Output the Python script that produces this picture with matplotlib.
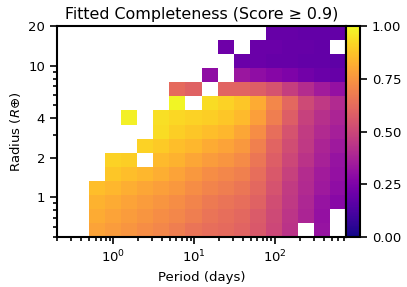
import numpy as np
import matplotlib
matplotlib.use('Agg')
import matplotlib.pyplot as plt
from matplotlib.ticker import ScalarFormatter, NullFormatter

# Bin edges (period in days, radius in Earth radii)
period_edges = np.logspace(np.log10(0.5), np.log10(750), 17)
radius_edges = np.logspace(np.log10(0.5), np.log10(20), 16)

n = np.nan
# Completeness per cell, rows from smallest radius upwards, columns from shortest period
completeness = np.array([
    [0.79, 0.77, 0.75, 0.73, 0.71, 0.68, 0.65, 0.63, 0.62, 0.60, 0.56, 0.50, 0.43, n, 0.32, n],
    [0.81, 0.79, 0.77, 0.75, 0.73, 0.71, 0.68, 0.65, 0.63, 0.61, 0.57, 0.51, 0.44, 0.38, 0.31, n],
    [0.83, 0.81, 0.79, 0.77, 0.75, 0.73, 0.70, 0.67, 0.65, 0.63, 0.59, 0.52, 0.45, 0.39, 0.32, 0.28],
    [0.86, 0.84, 0.82, 0.80, 0.78, 0.76, 0.73, 0.70, 0.68, 0.66, 0.61, 0.54, 0.46, 0.40, 0.34, 0.30],
    [n, 0.88, 0.86, 0.84, 0.82, 0.79, 0.76, 0.73, 0.71, 0.69, 0.63, 0.56, 0.48, 0.41, 0.35, 0.31],
    [n, 0.91, 0.90, n, 0.85, 0.83, 0.80, 0.77, 0.75, 0.72, 0.66, 0.58, 0.50, 0.43, 0.37, 0.32],
    [n, n, n, 0.91, 0.89, 0.86, 0.84, 0.81, 0.79, 0.76, 0.69, 0.60, 0.52, 0.45, 0.38, 0.34],
    [n, n, n, n, 0.93, 0.90, 0.88, 0.86, 0.84, 0.80, 0.73, 0.63, 0.54, 0.46, 0.40, 0.36],
    [n, n, 0.98, n, 0.94, 0.92, 0.91, 0.90, 0.88, 0.85, 0.78, 0.68, 0.58, 0.48, 0.42, 0.38],
    [n, n, n, n, n, 0.99, n, 0.93, 0.91, 0.88, 0.81, 0.71, 0.61, 0.51, 0.45, 0.40],
    [n, n, n, n, n, 0.62, 0.59, n, 0.60, 0.60, 0.58, 0.54, 0.47, 0.41, 0.35, 0.31],
    [n, n, n, n, n, n, n, 0.30, n, 0.33, 0.30, 0.27, 0.25, 0.22, 0.20, 0.19],
    [n, n, n, n, n, n, n, n, n, 0.20, 0.20, 0.19, 0.19, 0.18, 0.18, 0.17],
    [n, n, n, n, n, n, n, n, 0.21, n, 0.20, 0.20, 0.19, 0.19, 0.18, n],
    [n, n, n, n, n, n, n, n, n, n, n, 0.19, 0.19, 0.18, 0.18, 0.18],
])

radius_ticks = [1, 2, 4, 10, 20]
cbar_ticks = [0.0, 0.25, 0.5, 0.75, 1.0]

fig = plt.figure(figsize=(4.07, 2.87), dpi=100)
ax = fig.add_axes([0.140, 0.174, 0.710, 0.735])
cax = fig.add_axes([0.850, 0.174, 0.035, 0.735])

mesh = ax.pcolormesh(period_edges, radius_edges, np.ma.masked_invalid(completeness),
                     cmap='plasma', vmin=0, vmax=1)
ax.set_xscale('log')
ax.set_yscale('log')
ax.set_xlim(0.2, 750)
ax.set_ylim(0.5, 20)

ax.set_yticks(radius_ticks)
ax.yaxis.set_major_formatter(ScalarFormatter())
ax.yaxis.set_minor_formatter(NullFormatter())

ax.set_xlabel('Period (days)', fontsize=9.5)
ax.set_ylabel(r'Radius ($R{\oplus}$)', fontsize=9.5)
ax.set_title('Fitted Completeness (Score \u2265 0.9)', fontsize=11.4, pad=5)
ax.tick_params(which='both', labelsize=9.5, width=1.2)
ax.tick_params(which='major', length=5)
ax.tick_params(which='minor', length=3)
for s in ax.spines.values():
    s.set_linewidth(1.5)

cb = fig.colorbar(mesh, cax=cax, ticks=cbar_ticks)
cb.ax.yaxis.set_major_formatter(matplotlib.ticker.FormatStrFormatter('%.2f'))
cb.ax.tick_params(labelsize=9.5, length=5, width=1.2)
cb.outline.set_linewidth(1.5)

fig.savefig('out.png', dpi=100)
